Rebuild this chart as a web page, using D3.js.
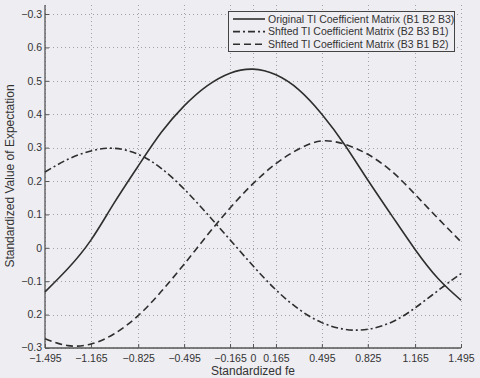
<!DOCTYPE html>
<html>
<head>
<meta charset="utf-8">
<script src="https://cdn.jsdelivr.net/npm/d3@7"></script>
<style>
  body { margin: 0; background: #eeedf2; }
  svg { display: block; font-family: "Liberation Sans", Arial, sans-serif; }
</style>
</head>
<body>
<div id="chart"></div>
<script>
// x tick values and the (as printed) y tick labels
const xTicks = [-1.495, -1.165, -0.825, -0.495, -0.165, 0, 0.165, 0.495, 0.825, 1.165, 1.495]
const yTicks = [-0.3, -0.2, -0.1, 0, 0.1, 0.2, 0.3, 0.4, 0.5, 0.6, 0.7]
const yTickLabels = ["\u22120.3", "0.2", "\u22120.1", "0", "0.1", "0.2", "0.3", "0.4", "0.5", "0.6", "\u22120.3"]

const seriesNames = [
  "Original TI Coefficient Matrix (B1 B2 B3)",
  "Shfted TI Coefficient Matrix (B2 B3 B1)",
  "Shfted TI Coefficient Matrix (B3 B1 B2)"
]

// sample positions along fe, and values
const feX = [-1.495, -1.33, -1.165, -1.0, -0.825, -0.66, -0.495, -0.33, -0.165, 0, 0.165, 0.33, 0.495, 0.66, 0.825, 1.0, 1.165, 1.33, 1.495]
const origY = [-0.132, -0.062, 0.023, 0.133, 0.245, 0.345, 0.425, 0.485, 0.523, 0.535, 0.518, 0.473, 0.40, 0.308, 0.203, 0.095, -0.005, -0.092, -0.157]
const shift1Y = [0.227, 0.265, 0.29, 0.298, 0.28, 0.238, 0.176, 0.102, 0.024, -0.054, -0.126, -0.184, -0.224, -0.244, -0.244, -0.222, -0.18, -0.128, -0.077]
const shift2Y = [-0.272, -0.293, -0.288, -0.258, -0.203, -0.131, -0.049, 0.037, 0.119, 0.192, 0.252, 0.296, 0.32, 0.31, 0.28, 0.228, 0.16, 0.088, 0.018]

const W = 480, H = 378
const plot = { left: 45, right: 461, top: 5, bottom: 348 }

const svg = d3.select("#chart").append("svg")
  .attr("width", W).attr("height", H)

svg.append("rect").attr("width", W).attr("height", H).attr("fill", "#eeedf2")

const x = d3.scaleLinear().domain([-1.495, 1.495]).range([plot.left, plot.right])
const y = d3.scaleLinear().domain([-0.3, 0.727]).range([plot.bottom, plot.top])

// grid
const grid = svg.append("g").attr("stroke", "#a2a2a6").attr("stroke-width", 1).attr("stroke-dasharray", "1,3")
grid.selectAll(".gx").data(xTicks).join("line")
  .attr("x1", d => Math.round(x(d)) + 0.5).attr("x2", d => Math.round(x(d)) + 0.5)
  .attr("y1", plot.top).attr("y2", plot.bottom)
grid.selectAll(".gy").data(yTicks).join("line")
  .attr("y1", d => Math.round(y(d)) + 0.5).attr("y2", d => Math.round(y(d)) + 0.5)
  .attr("x1", plot.left).attr("x2", plot.right)

// axes (ticks pointing inward like matlab)
const xAxis = svg.append("g").attr("transform", `translate(0,${plot.bottom})`)
  .call(d3.axisBottom(x).tickValues(xTicks).tickSize(-4).tickPadding(7)
    .tickFormat(d => d === 0 ? "0" : d3.format(".3f")(d).replace("-", "\u2212")))
const yAxis = svg.append("g").attr("transform", `translate(${plot.left},0)`)
  .call(d3.axisLeft(y).tickValues(yTicks).tickSize(-4).tickPadding(3)
    .tickFormat((d, i) => yTickLabels[i]))

for (const ax of [xAxis, yAxis]) {
  ax.select(".domain").attr("stroke", "#555").attr("stroke-width", 1.3)
  ax.selectAll(".tick line").attr("stroke", "#555")
  ax.selectAll("text").attr("fill", "#333").style("font-size", "10.5px")
}
yAxis.select(".domain").attr("d", `M0,${plot.top}V${plot.bottom}`)
xAxis.select(".domain").attr("d", `M${plot.left},0H${plot.right}`)
// bottom y label sits a touch high so it clears the x labels
yAxis.selectAll(".tick text").filter(d => d === -0.3).attr("dy", "0.2em")

// curves
const series = [
  { ys: origY, dash: null },
  { ys: shift1Y, dash: "7,3,2,3" },
  { ys: shift2Y, dash: "7,4" }
]
const line = d3.line().curve(d3.curveNatural).x(d => x(d[0])).y(d => y(d[1]))

svg.selectAll(".curve").data(series).join("path")
  .attr("class", "curve")
  .attr("fill", "none")
  .attr("stroke", "#2e2e2e")
  .attr("stroke-width", 1.6)
  .attr("stroke-dasharray", d => d.dash)
  .attr("d", d => line(feX.map((v, i) => [v, d.ys[i]])))

// legend
const leg = svg.append("g")
leg.append("rect").attr("x", 228.5).attr("y", 11.5).attr("width", 226).attr("height", 40)
  .attr("fill", "#eeedf2").attr("stroke", "#444").attr("stroke-width", 1)
seriesNames.forEach((name, i) => {
  const ly = 19 + i * 12.6
  leg.append("line").attr("x1", 233).attr("x2", 265).attr("y1", ly).attr("y2", ly)
    .attr("stroke", "#2e2e2e").attr("stroke-width", 1.6)
    .attr("stroke-dasharray", series[i].dash)
  leg.append("text").attr("x", 268).attr("y", ly).attr("dy", "0.35em")
    .attr("fill", "#333").style("font-size", "10.5px").text(name)
})

// axis titles
svg.append("text").attr("x", (plot.left + plot.right) / 2).attr("y", 375)
  .attr("text-anchor", "middle").attr("fill", "#333").style("font-size", "12px")
  .text("Standardized fe")
svg.append("text").attr("transform", `translate(14,${(80 + 272) / 2}) rotate(-90)`)
  .attr("text-anchor", "middle").attr("fill", "#333").style("font-size", "12px")
  .text("Standardized Value of Expectation")
</script>
</body>
</html>
